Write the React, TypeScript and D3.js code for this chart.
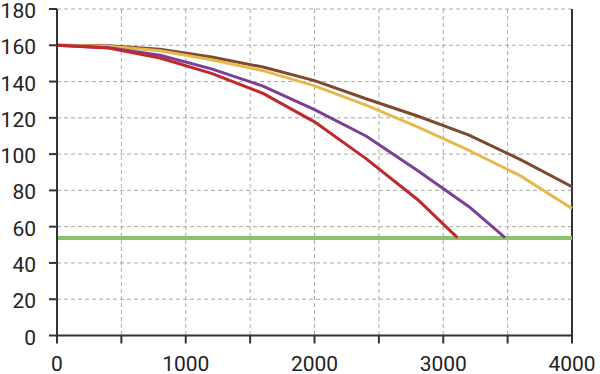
import React, { useEffect, useRef } from 'react';
import * as d3 from 'd3';

// x values where the curves were sampled
const xRed = [0, 400, 800, 1200, 1600, 2000, 2400, 2800, 3110];
const yRed = [160, 158.5, 153, 144.5, 133.5, 117.8, 97.5, 75, 54];

const xPurple = [0, 400, 800, 1200, 1600, 2000, 2400, 2800, 3200, 3480];
const yPurple = [160, 158.7, 154.5, 147, 137.5, 124.5, 110, 91, 71, 54];

const xYellow = [0, 400, 800, 1200, 1600, 2000, 2400, 2800, 3200, 3600, 4000];
const yYellow = [160, 159.5, 157, 152, 146, 137.6, 127, 115, 102, 88, 70];

const xBrown = [0, 400, 800, 1200, 1600, 2000, 2400, 2800, 3200, 3600, 4000];
const yBrown = [160, 159.7, 157.8, 153.5, 148, 140.5, 130.5, 121, 110.5, 97, 82];

const greenLevel = 53.8;

const xTicks = [0, 500, 1000, 1500, 2000, 2500, 3000, 3500, 4000];
const xLabels = [0, 1000, 2000, 3000, 4000];
const yTicks = [0, 20, 40, 60, 80, 100, 120, 140, 160, 180];

export default function App() {
  const svgRef = useRef<SVGSVGElement>(null);

  useEffect(() => {
    const w = 600;
    const h = 374;
    const left = 57, right = 572, top = 9, bottom = 335.5;
    const svg = d3.select(svgRef.current);
    svg.selectAll('*').remove();

    const x = d3.scaleLinear().domain([0, 4000]).range([left, right]);
    const y = d3.scaleLinear().domain([0, 180]).range([bottom, top]);

    // grid
    const grid = svg.append('g')
      .attr('stroke', '#a8a8a8')
      .attr('stroke-width', 1)
      .attr('stroke-dasharray', '4,3');
    grid.selectAll('.gx')
      .data(xTicks.slice(1, -1))
      .join('line')
      .attr('x1', d => x(d)).attr('x2', d => x(d))
      .attr('y1', top).attr('y2', bottom);
    grid.selectAll('.gy')
      .data(yTicks.slice(1))
      .join('line')
      .attr('x1', left).attr('x2', right)
      .attr('y1', d => y(d)).attr('y2', d => y(d));

    // right border
    svg.append('line')
      .attr('x1', right).attr('x2', right)
      .attr('y1', top).attr('y2', bottom)
      .attr('stroke', '#333').attr('stroke-width', 2);

    // green level line
    svg.append('line')
      .attr('x1', x(0)).attr('x2', x(4000))
      .attr('y1', y(greenLevel)).attr('y2', y(greenLevel))
      .attr('stroke', '#8cc26b').attr('stroke-width', 4);

    const line = d3.line<[number, number]>()
      .x(d => x(d[0]))
      .y(d => y(d[1]));

    const series: [number[], number[], string][] = [
      [xBrown, yBrown, '#7b4a2f'],
      [xYellow, yYellow, '#e5b94e'],
      [xPurple, yPurple, '#7b3f95'],
      [xRed, yRed, '#c0282d'],
    ];
    series.forEach(([xs, ys, c]) => {
      svg.append('path')
        .datum(xs.map((v, i) => [v, ys[i]] as [number, number]))
        .attr('d', line)
        .attr('fill', 'none')
        .attr('stroke', c)
        .attr('stroke-width', 3)
        .attr('stroke-linejoin', 'round');
    });

    const font = 'Roboto, "Noto Sans", sans-serif';

    // y axis
    const yAxis = svg.append('g');
    yAxis.append('line')
      .attr('x1', left).attr('x2', left)
      .attr('y1', top).attr('y2', bottom + 1)
      .attr('stroke', '#333').attr('stroke-width', 2);
    yAxis.selectAll('.yt')
      .data(yTicks)
      .join('line')
      .attr('x1', left - 8).attr('x2', left)
      .attr('y1', d => y(d)).attr('y2', d => y(d))
      .attr('stroke', '#333').attr('stroke-width', 2);
    yAxis.selectAll('text')
      .data(yTicks)
      .join('text')
      .attr('x', 36)
      .attr('y', d => y(d) + 9)
      .attr('text-anchor', 'end')
      .attr('font-family', font)
      .attr('font-size', 21)
      .attr('fill', '#222')
      .text(d => d);

    // x axis
    const xAxis = svg.append('g');
    xAxis.append('line')
      .attr('x1', left - 1).attr('x2', right + 1)
      .attr('y1', bottom).attr('y2', bottom)
      .attr('stroke', '#333').attr('stroke-width', 2);
    xAxis.selectAll('.xt')
      .data(xTicks)
      .join('line')
      .attr('x1', d => x(d)).attr('x2', d => x(d))
      .attr('y1', bottom).attr('y2', bottom + 8)
      .attr('stroke', '#333').attr('stroke-width', 2);
    xAxis.selectAll('text')
      .data(xLabels)
      .join('text')
      .attr('x', d => x(d))
      .attr('y', 371)
      .attr('text-anchor', 'middle')
      .attr('font-family', font)
      .attr('font-size', 21)
      .attr('fill', '#222')
      .text(d => d);

    svg.attr('width', w).attr('height', h);
  }, []);

  return (
    <svg
      ref={svgRef}
      width={600}
      height={374}
      style={{ position: 'absolute', left: 0, top: 0, background: '#fff' }}
    />
  );
}
